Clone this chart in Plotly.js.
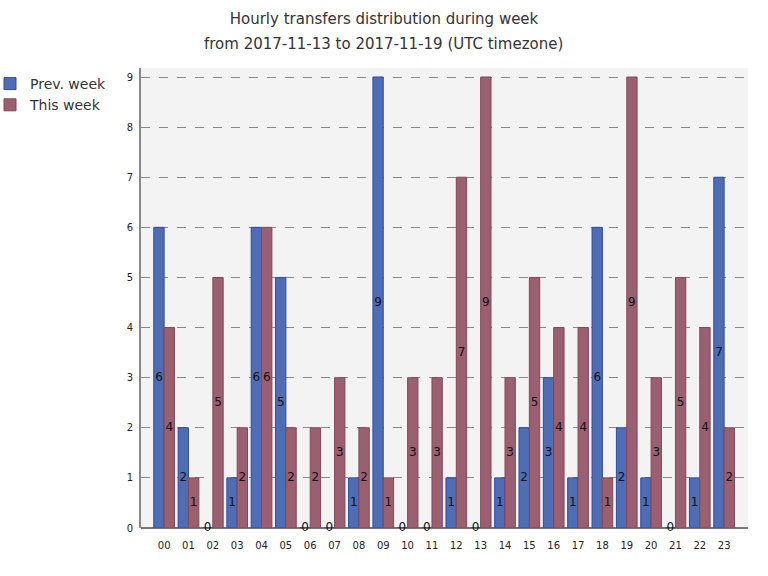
<!DOCTYPE html>
<html>
<head>
<meta charset="utf-8">
<script src="https://cdn.plot.ly/plotly-3.0.1.min.js"></script>
<style>body{margin:0;background:#fff}#chart{width:768px;height:576px}</style>
</head>
<body>
<div id="chart"></div>
<script>
const hours = ["00","01","02","03","04","05","06","07","08","09","10","11","12","13","14","15","16","17","18","19","20","21","22","23"];
const prevWeek = [6,2,0,1,6,5,0,0,1,9,0,0,1,0,1,2,3,1,6,2,1,0,1,7];
const thisWeek = [4,1,5,2,6,2,2,3,2,1,3,3,7,9,3,5,4,4,1,9,3,5,4,2];
const seriesNames = ["Prev. week","This week"];
const yTicks = [0,1,2,3,4,5,6,7,8,9];
const titleLines = ["Hourly transfers distribution during week","from 2017-11-13 to 2017-11-19 (UTC timezone)"];

const fills = ["#4f6db5","#9a5f71"];
const borders = ["#2f4c9c","#84475a"];
const series = [prevWeek, thisWeek];

const traces = [];
series.forEach((vals, i) => {
  traces.push({
    type: "bar", x: hours, y: vals, name: seriesNames[i],
    offsetgroup: "g" + i,
    marker: {color: fills[i], line: {color: borders[i], width: 1}},
    hoverinfo: "x+y"
  });
});
series.forEach((vals, i) => {
  traces.push({
    type: "scatter", mode: "text", x: hours, y: vals.map(v => v / 2),
    text: vals.map(String), textposition: "middle center",
    textfont: {family: "DejaVu Sans", size: 12, color: "#111"},
    offsetgroup: "g" + i, showlegend: false, cliponaxis: false, hoverinfo: "skip"
  });
});

const layout = {
  width: 768, height: 576,
  margin: {l: 141, r: 20, t: 68, b: 48, autoexpand: false},
  paper_bgcolor: "#ffffff", plot_bgcolor: "#f3f3f3",
  font: {family: "DejaVu Sans", color: "#333"},
  title: {
    text: titleLines[0],
    font: {family: "DejaVu Sans", size: 15, color: "#333"},
    x: 0.5, xref: "container", xanchor: "center", yref: "container", y: 1 - 19 / 576, yanchor: "middle"
  },
  annotations: [{
    text: titleLines[1], xref: "paper", yref: "paper", x: (383 - 141) / 607, y: (528 - 44) / 460,
    xanchor: "center", yanchor: "middle", showarrow: false,
    font: {family: "DejaVu Sans", size: 15, color: "#333"}
  }],
  barmode: "group", bargap: 0.15, bargroupgap: 0,
  scattermode: "group", scattergap: 0.15,
  xaxis: {
    type: "category", range: [-0.95, 23.98],
    showgrid: false, zeroline: false, showline: false,
    ticks: "", tickfont: {size: 10, color: "#222"}, ticklabelstandoff: 10
  },
  yaxis: {
    range: [0, 9.18], tickvals: yTicks, ticktext: yTicks.map(String),
    showgrid: true, gridcolor: "#888", griddash: "dash", gridwidth: 1,
    zeroline: true, zerolinecolor: "#777", zerolinewidth: 2,
    showline: true, linecolor: "#888", linewidth: 2,
    ticks: "", tickfont: {size: 10, color: "#222"}, ticklabelstandoff: 4
  },
  legend: {
    x: (-10 - 141) / 607, xanchor: "left", y: 1.0, yanchor: "top",
    font: {size: 14, color: "#333"}, bgcolor: "rgba(0,0,0,0)",
    tracegroupgap: 4
  },
  showlegend: true
};
Plotly.newPlot("chart", traces, layout, {displayModeBar: false, staticPlot: true});
</script>
</body>
</html>
